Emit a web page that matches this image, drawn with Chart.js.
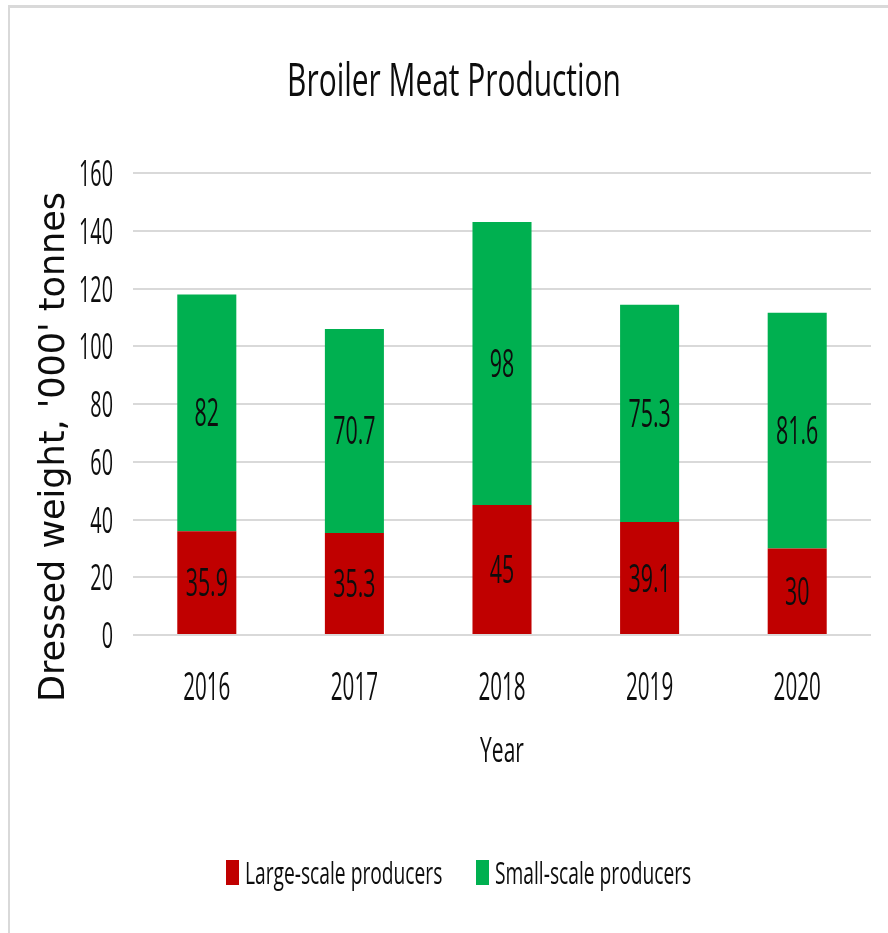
<!DOCTYPE html>
<html>
<head>
<meta charset="utf-8">
<title>Broiler Meat Production</title>
<script src="https://cdn.jsdelivr.net/npm/chart.js@4/dist/chart.umd.min.js"></script>
<style>
  html, body { margin: 0; padding: 0; background: #fff; }
  .frame {
    position: absolute; left: 8px; top: 5px; right: 0; bottom: 0;
    border-top: 3px solid #d9d9d9; border-left: 2px solid #d9d9d9;
  }
  .wrap { position: absolute; left: 0; top: 0; width: 888px; height: 933px; }
</style>
</head>
<body>
<div class="frame"></div>
<div class="wrap"><canvas id="chart"></canvas></div>
<script>
const years = ['2016', '2017', '2018', '2019', '2020'];
const largeScale = [35.9, 35.3, 45, 39.1, 30];
const smallScale = [82, 70.7, 98, 75.3, 81.6];
const seriesNames = ['Large-scale producers', 'Small-scale producers'];
const seriesColors = ['#c00000', '#00b050'];

const TEXT = '#0d0d0d';
const FACE = '"Open Sans", "Noto Sans", sans-serif';

// condensed text: draw with a horizontal squeeze
function squeeze(ctx, text, x, y, size, sx, align = 'center') {
  ctx.save();
  ctx.font = `500 ${size}px ${FACE}`;
  ctx.fillStyle = TEXT;
  ctx.textAlign = align;
  ctx.textBaseline = 'alphabetic';
  ctx.translate(x, y);
  ctx.scale(sx, 1);
  ctx.fillText(text, 0, 0);
  ctx.restore();
}

const labelsPlugin = {
  id: 'labels',
  afterDraw(chart) {
    const { ctx, chartArea, scales } = chart;
    const yScale = scales.y;

    // title
    squeeze(ctx, 'Broiler Meat Production', 454, 96, 46, 0.65);

    // y ticks
    yScale.ticks.forEach((t) => {
      const py = yScale.getPixelForValue(t.value);
      squeeze(ctx, String(t.value), chartArea.left - 20, py + 13, 36, 0.55, 'right');
    });

    // x ticks
    const xMeta = chart.getDatasetMeta(0);
    xMeta.data.forEach((bar, i) => {
      squeeze(ctx, years[i], bar.x, 700, 37.5, 0.55);
    });

    // x axis title
    squeeze(ctx, 'Year', (chartArea.left + chartArea.right) / 2, 762, 35, 0.6);

    // y axis title
    ctx.save();
    ctx.translate(55, 447);
    ctx.rotate(-Math.PI / 2);
    ctx.font = `35px "DejaVu Sans", sans-serif`;
    ctx.fillStyle = TEXT;
    ctx.textAlign = 'center';
    ctx.textBaseline = 'middle';
    ctx.fillText("Dressed weight, '000' tonnes", 0, 0);
    ctx.restore();

    // values inside each segment
    chart.data.datasets.forEach((ds, di) => {
      chart.getDatasetMeta(di).data.forEach((bar, i) => {
        const mid = (bar.y + bar.base) / 2;
        squeeze(ctx, String(ds.data[i]), bar.x, mid + 13.5, 37.5, 0.57);
      });
    });

    // legend
    const legendX = [226, 476];
    seriesNames.forEach((name, i) => {
      ctx.fillStyle = seriesColors[i];
      ctx.fillRect(legendX[i], 860, 13, 25);
      squeeze(ctx, name, legendX[i] + 19, 884, 31.5, 0.61, 'left');
    });
  },
};

new Chart(document.getElementById('chart'), {
  type: 'bar',
  data: {
    labels: years,
    datasets: [
      { label: seriesNames[0], data: largeScale, backgroundColor: seriesColors[0] },
      { label: seriesNames[1], data: smallScale, backgroundColor: seriesColors[1] },
    ],
  },
  options: {
    responsive: true,
    maintainAspectRatio: false,
    animation: false,
    layout: { padding: { left: 133, right: 17, top: 173, bottom: 298 } },
    datasets: { bar: { categoryPercentage: 1, barPercentage: 0.4 } },
    plugins: {
      legend: { display: false },
      title: { display: false },
      tooltip: { enabled: false },
    },
    scales: {
      x: { stacked: true, display: false },
      y: {
        stacked: true,
        min: 0,
        max: 160,
        ticks: { stepSize: 20, display: false },
        grid: { color: '#d9d9d9', lineWidth: 2, drawTicks: false },
        border: { display: false },
      },
    },
  },
  plugins: [labelsPlugin],
});
</script>
</body>
</html>
